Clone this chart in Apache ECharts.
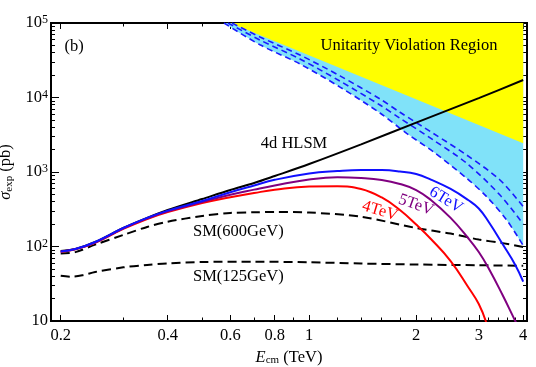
<!DOCTYPE html>
<html><head><meta charset="utf-8">
<script src="https://cdn.jsdelivr.net/npm/echarts@6/dist/echarts.min.js"></script>
<style>html,body{margin:0;padding:0;background:#fff}#c{width:536px;height:367px}</style>
</head><body><div id="c"></div>
<script>
const FONT = '"Liberation Serif","Times New Roman",serif';

// axis ticks
const xMajorTicks = [0.2, 0.4, 0.6, 0.8, 1, 2, 3, 4];
const xMinorTicks = [0.3, 0.5, 0.7, 0.9, 1.2, 1.4, 1.6, 1.8, 2.2, 2.4, 2.6, 2.8, 3.2, 3.4, 3.6, 3.8];
const yMajorTicks = [10, 100, 1000, 10000, 100000];
const yMinorTicks = [20, 30, 40, 50, 60, 70, 80, 90,
  200, 300, 400, 500, 600, 700, 800, 900,
  2000, 3000, 4000, 5000, 6000, 7000, 8000, 9000,
  20000, 30000, 40000, 50000, 60000, 70000, 80000, 90000];

// 4d HLSM (black solid)
const eHLSM = [0.2, 0.22, 0.25, 0.3, 0.35, 0.4, 0.5, 0.6, 0.7, 0.8, 1.0, 1.4, 2.0, 3.0, 4.0];
const sHLSM = [87, 92.5, 115, 177, 242, 309, 434, 573, 711, 883, 1280, 2350, 4600, 9800, 17200];

// 6 TeV (blue)
const e6TeV = [0.2, 0.22, 0.25, 0.3, 0.35, 0.4, 0.5, 0.6, 0.7, 0.8, 1.0, 1.2, 1.4, 1.6, 1.8, 2.0, 2.2, 2.5, 2.8, 3.0, 3.2, 3.5, 3.8, 4.0];
const s6TeV = [86, 92.5, 115, 177, 242, 303, 408, 536, 660, 785, 955, 1030, 1065, 1060, 1016, 940, 792, 592, 421, 324, 213, 108, 56.5, 33.7];
// 5 TeV (purple)
const e5TeV = [0.2, 0.22, 0.25, 0.3, 0.35, 0.4, 0.5, 0.6, 0.7, 0.8, 1.0, 1.2, 1.4, 1.6, 1.8, 2.0, 2.2, 2.5, 2.8, 3.0, 3.2, 3.5, 3.8, 3.85];
const s5TeV = [85.5, 92.5, 113, 175, 238, 296, 396, 496, 580, 659, 793, 851, 830, 781, 690, 573, 421, 242, 130, 84.3, 50.7, 22.3, 10, 9];
// 4 TeV (red)
const e4TeV = [0.2, 0.22, 0.25, 0.3, 0.35, 0.4, 0.5, 0.6, 0.7, 0.8, 1.0, 1.2, 1.4, 1.6, 1.8, 2.0, 2.2, 2.5, 2.8, 3.0, 3.15];
const s4TeV = [84.5, 92, 112, 172, 234, 290, 384, 457, 522, 578, 638, 644, 591, 455, 309, 197, 126, 63.8, 28.6, 16.9, 9.5];

// SM reference curves (black dashed)
const eSM600 = [0.2, 0.22, 0.25, 0.3, 0.35, 0.4, 0.5, 0.6, 0.7, 0.8, 1.0, 1.4, 2.0, 2.5, 3.0, 3.5, 4.0];
const sSM600 = [80.5, 84, 106, 143, 183, 215, 257, 282, 288, 291, 286, 251, 177, 149, 124, 111, 98.4];
const eSM125 = [0.2, 0.215, 0.23, 0.25, 0.3, 0.35, 0.4, 0.5, 0.7, 1.0, 1.4, 2.0, 3.0, 4.0];
const sSM125 = [40.6, 39.3, 41, 45.5, 52.5, 56.6, 59.4, 61.9, 62.5, 61.4, 59.1, 57.3, 56, 55.2];

// unitarity bounds (blue dashed)
const eBound1 = [0.607, 0.727, 0.942, 1.221, 1.582, 1.801, 2.234, 2.774, 3.442, 4.0];
const sBound1 = [100000, 64900, 37200, 19500, 9550, 6330, 3300, 1690, 781, 342];
const eBound2 = [0.591, 0.727, 0.942, 1.221, 1.582, 1.801, 2.234, 2.774, 3.442, 4.0];
const sBound2 = [100000, 59100, 32900, 16600, 7930, 5260, 2690, 1310, 491, 201];
const eBound3 = [0.576, 0.727, 0.942, 1.221, 1.582, 1.881, 2.234, 2.774, 3.158, 3.594, 4.0];
const sBound3 = [100000, 51000, 28200, 13800, 6190, 3300, 1870, 823, 466, 227, 103];

// unitarity violation region boundary (yellow)
const eViol = [0.6, 4.0];
const sViol = [100000, 2430];

const zip = (a, b) => a.map((v, i) => [v, b[i]]);

const X_MIN = 0.1878, X_MAX = 4.1, Y_MIN = 10, Y_MAX = 100000;

function xAxisDef(pos, ticks, len, labels) {
  return {
    type: 'log', logBase: 10, position: pos, min: X_MIN, max: X_MAX,
    axisLine: { show: true, onZero: false, lineStyle: { color: '#000', width: 2 } },
    axisTick: { show: true, inside: true, length: len, customValues: ticks, lineStyle: { color: '#000', width: 1 } },
    axisLabel: labels ? {
      show: true, customValues: ticks, margin: 6, color: '#000', fontSize: 16.5, fontFamily: FONT,
      formatter: v => String(Math.round(v * 10) / 10)
    } : { show: false },
    minorTick: { show: false }, splitLine: { show: false }
  };
}
function yAxisDef(pos, ticks, len, labels) {
  return {
    type: 'log', logBase: 10, position: pos, min: Y_MIN, max: Y_MAX,
    axisLine: { show: true, onZero: false, lineStyle: { color: '#000', width: 2 } },
    axisTick: { show: true, inside: true, length: len, customValues: ticks, lineStyle: { color: '#000', width: 1 } },
    axisLabel: labels ? {
      show: true, customValues: ticks, margin: 3, color: '#000', fontSize: 16.5, fontFamily: FONT,
      formatter: v => { const n = Math.round(Math.log10(v)); return n === 1 ? '10' : '10{sup|' + n + '}'; },
      rich: { sup: { fontSize: 12, fontFamily: FONT, color: '#000', verticalAlign: 'top', padding: [0, 0, 6, 0] } }
    } : { show: false },
    minorTick: { show: false }, splitLine: { show: false }
  };
}

const xAxes = [
  xAxisDef('bottom', xMajorTicks, 6, true),
  xAxisDef('bottom', xMinorTicks, 3.5, false),
  xAxisDef('top', xMajorTicks, 6, false),
  xAxisDef('top', xMinorTicks, 3.5, false)
];
xAxes[0].name = '{i|E}{s|cm} (TeV)';
xAxes[0].nameLocation = 'middle';
xAxes[0].nameGap = 26;
xAxes[0].nameTextStyle = {
  color: '#000', fontSize: 16.5, fontFamily: FONT,
  rich: {
    i: { fontStyle: 'italic', fontSize: 16.5, fontFamily: FONT, color: '#000' },
    s: { fontSize: 11, fontFamily: FONT, color: '#000', verticalAlign: 'bottom' }
  }
};
const yAxes = [
  yAxisDef('left', yMajorTicks, 8, true),
  yAxisDef('left', yMinorTicks, 4, false),
  yAxisDef('right', yMajorTicks, 8, false),
  yAxisDef('right', yMinorTicks, 4, false)
];
yAxes[0].name = '{i|σ}{s|exp} (pb)';
yAxes[0].nameLocation = 'middle';
yAxes[0].nameRotate = 90;
yAxes[0].nameGap = 27;
yAxes[0].nameTextStyle = {
  color: '#000', fontSize: 16.5, fontFamily: FONT,
  rich: {
    i: { fontStyle: 'italic', fontSize: 16.5, fontFamily: FONT, color: '#000' },
    s: { fontSize: 11, fontFamily: FONT, color: '#000', verticalAlign: 'bottom' }
  }
};

function lineSeries(name, data, color, width, z, dash, smooth) {
  return {
    name, type: 'line', data, xAxisIndex: 0, yAxisIndex: 0, showSymbol: false, symbol: 'none',
    smooth: smooth == null ? 0.3 : smooth, z, animation: false,
    lineStyle: { color, width, type: dash || 'solid' }
  };
}

const series = [
  {
    type: 'line', data: zip(eBound3, sBound3), showSymbol: false, symbol: 'none', smooth: 0.3, z: 1,
    lineStyle: { width: 0, opacity: 0 }, areaStyle: { color: '#80E2F9', opacity: 1, origin: 'end' }
  },
  {
    type: 'line', data: zip(eViol, sViol), showSymbol: false, symbol: 'none', z: 2,
    lineStyle: { width: 0, opacity: 0 }, areaStyle: { color: '#FFFF00', opacity: 1, origin: 'end' }
  },
  lineSeries('bound1', zip(eBound1, sBound1), '#1a1aff', 1.6, 3, [6, 4]),
  lineSeries('bound2', zip(eBound2, sBound2), '#1a1aff', 1.6, 3, [6, 4]),
  lineSeries('bound3', zip(eBound3, sBound3), '#1a1aff', 1.6, 3, [6, 4]),
  lineSeries('SM125', zip(eSM125, sSM125), '#000', 2, 4, [9, 5]),
  lineSeries('SM600', zip(eSM600, sSM600), '#000', 2, 4, [9, 5]),
  lineSeries('HLSM', zip(eHLSM, sHLSM), '#000', 2, 5),
  lineSeries('4TeV', zip(e4TeV, s4TeV), '#ff0000', 2, 6, null, 0.45),
  lineSeries('5TeV', zip(e5TeV, s5TeV), '#800080', 2, 7, null, 0.45),
  lineSeries('6TeV', zip(e6TeV, s6TeV), '#1010ff', 2, 8, null, 0.45)
];

function txt(text, x, y, opts) {
  opts = opts || {};
  return {
    type: 'text', x, y, rotation: opts.rot || 0, z: 100,
    style: {
      text, fill: opts.color || '#000', fontSize: opts.size || 16.5, fontFamily: FONT,
      align: opts.align || 'center', verticalAlign: 'middle',
      textAlign: opts.align || 'center', textVerticalAlign: 'middle'
    }
  };
}

const chart = echarts.init(document.getElementById('c'), null, { renderer: 'canvas' });
chart.setOption({
  animation: false,
  backgroundColor: '#fff',
  grid: { left: 51, right: 9, top: 23, bottom: 46, containLabel: false, outerBoundsMode: 'none' },
  xAxis: xAxes,
  yAxis: yAxes,
  series,
  graphic: [
    txt('(b)', 74, 47),
    txt('Unitarity Violation Region', 409, 46),
    txt('4d HLSM', 294, 144),
    txt('SM(600GeV)', 193, 232, { align: 'left' }),
    txt('SM(125GeV)', 193, 277, { align: 'left' }),
    txt('4TeV', 380, 211, { color: '#ff0000', rot: -0.3 }),
    txt('5TeV', 416, 205, { color: '#800080', rot: -0.34 }),
    txt('6TeV', 446, 200, { color: '#1010ff', rot: -0.55 })
  ]
});
</script></body></html>
